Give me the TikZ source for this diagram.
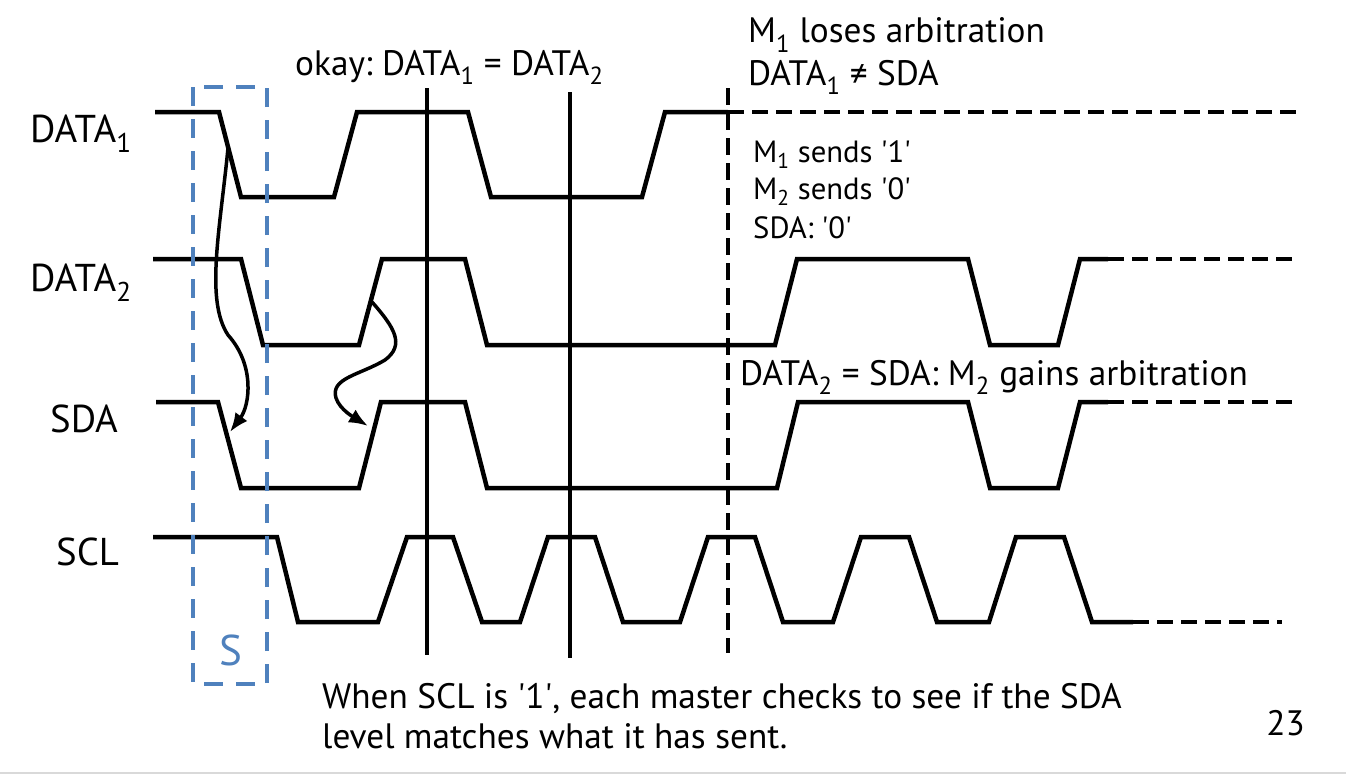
\documentclass[tikz,border=0pt]{standalone}
\usepackage{fontspec}
\setmainfont{PT Sans}
\usepackage{tikz}
\usetikzlibrary{arrows.meta}
\definecolor{startblue}{RGB}{79,129,189}
\newcommand{\bigtxt}{\fontsize{35.3}{40}\selectfont}
\newcommand{\labeltxt}{\fontsize{38.8}{44}\selectfont}
\newcommand{\smalltxt}{\fontsize{30.7}{36}\selectfont}
\newcommand{\quoted}[1]{\textquotesingle#1\textquotesingle}
\frenchspacing

\begin{document}
\begin{tikzpicture}[x=1pt, y=-1pt, >={Latex[length=19pt,width=15pt]},
    wave/.style={line width=4.5pt, line join=miter},
    wavedash/.style={wave, dash pattern=on 16pt off 8pt},
    marker/.style={line width=3.5pt},
    markerdash/.style={marker, dash pattern=on 17pt off 8pt},
    sig/.style={anchor=base west, inner sep=0pt, font=\labeltxt},
    txt/.style={anchor=base west, inner sep=0pt, font=\bigtxt},
    note/.style={anchor=base west, inner sep=0pt, font=\smalltxt}]
\useasboundingbox (0,0) rectangle (1346,776);
\draw[gray!30, line width=2pt] (0,773) -- (1346,773);

\node[sig] (data1) at (30,142) {DATA\textsubscript{1}};
\node[sig] (data2) at (30,291) {DATA\textsubscript{2}};
\node[sig] (sda) at (50,432) {SDA};
\node[sig] (scl) at (56,565) {SCL};

\draw[wave] (155,112) -- (219,112) -- (241,197) -- (334,197) -- (357,112) -- (468,112) -- (491,197) -- (642,197) -- (665,112) -- (728,112);
\draw[wavedash] (728,112) -- (1297,112);
\draw[wave] (153,259) -- (241,259) -- (263,345) -- (359,345) -- (382,259) -- (465,259) -- (487,345) -- (775,345) -- (797,259) -- (968,259) -- (990,345) -- (1058,345) -- (1080,259) -- (1108,259);
\draw[wavedash] (1108,259) -- (1297,259);
\draw[wave] (156,402) -- (218,402) -- (241,488) -- (359,488) -- (381,402) -- (465,402) -- (487,488) -- (777,488) -- (798,402) -- (968,402) -- (990,488) -- (1058,488) -- (1080,402) -- (1108,402);
\draw[wavedash] (1108,402) -- (1297,402);
\draw[wave] (153,537) -- (277,537) -- (298,622) -- (378,622) -- (407,537) -- (453,537) -- (482,622) -- (520,622) -- (548,537) -- (595,537) -- (623,622) -- (680,622) -- (708,537) -- (755,537) -- (783,622) -- (833,622) -- (861,537) -- (909,537) -- (937,622) -- (989,622) -- (1016,537) -- (1064,537) -- (1092,622) -- (1133,622);
\draw[wavedash] (1133,622) -- (1282,622);

\draw[marker] (427,88) -- (427,655);
\draw[marker] (570,92) -- (570,658);
\draw[markerdash] (728,88) -- (728,653);

\draw[startblue, line width=4pt, dash pattern=on 19pt off 13pt] (193,87) rectangle (267,684);
\node[sig, text=startblue, anchor=base, font=\fontsize{43}{48}\selectfont] (start) at (231,665) {S};

\coordinate (d1edge) at (228,148);
\coordinate (sdaedge1) at (230,432);
\coordinate (d2edge) at (372,302);
\coordinate (sdaedge2) at (368,426);
\draw[marker, ->] (d1edge) .. controls (220,230) and (205,300) .. (228,335) .. controls (255,365) and (250,405) .. (sdaedge1);
\draw[marker, ->] (d2edge) .. controls (395,328) and (405,345) .. (385,360) .. controls (360,375) and (330,378) .. (336,398) .. controls (340,410) and (355,418) .. (sdaedge2);

\node[txt] (okay) at (295,75) {okay: DATA\textsubscript{1} = DATA\textsubscript{2}};
\node[txt] (lose) at (748,43) {M\textsubscript{1} loses arbitration};
\node[txt] (differ) at (748,85) {DATA\textsubscript{1} ≠ SDA};
\node[note] (m1sends) at (753,162) {M\textsubscript{1} sends \quoted{1}};
\node[note] (m2sends) at (753,199) {M\textsubscript{2} sends \quoted{0}};
\node[note] (sdalevel) at (753,238) {SDA: \quoted{0}};
\node[txt] (gain) at (740,385) {DATA\textsubscript{2} = SDA: M\textsubscript{2} gains arbitration};
\node[txt, align=left] (check) at (322,748) {When SCL is \quoted{1}, each master checks to see if the SDA\\level matches what it has sent.};
\node[txt, anchor=base east] (page) at (1305,735) {23};
\end{tikzpicture}
\end{document}
